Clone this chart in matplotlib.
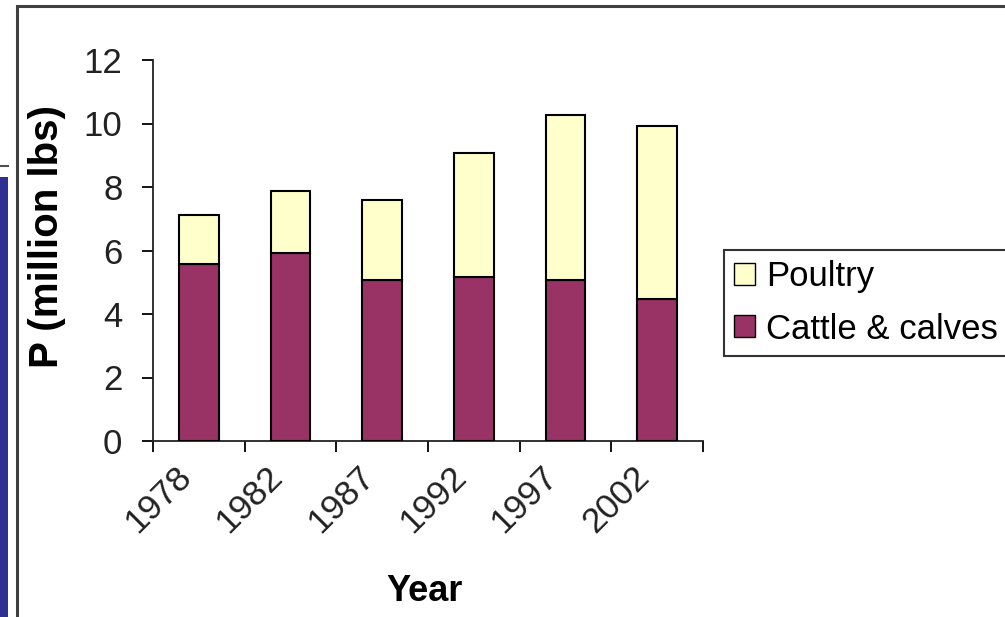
import matplotlib
matplotlib.use("Agg")
import matplotlib.pyplot as plt
from matplotlib.patches import Rectangle
from matplotlib.lines import Line2D
from matplotlib.transforms import ScaledTranslation
import numpy as np

years = ["1978", "1982", "1987", "1992", "1997", "2002"]
cattle = [5.57, 5.91, 5.07, 5.16, 5.07, 4.47]
poultry = [1.55, 1.97, 2.53, 3.92, 5.19, 5.44]

CATTLE_COLOR = "#993366"
POULTRY_COLOR = "#FFFFCC"

plt.rcParams["font.family"] = ["Liberation Sans", "DejaVu Sans"]

fig = plt.figure(figsize=(10.05, 6.17), dpi=100)
W, H = 1005, 617

# slide decoration: blue side bar and chart border
fig.add_artist(Rectangle((0, 0), 8 / W, 1 - 177 / H, transform=fig.transFigure,
                         facecolor="#2E3192", edgecolor="none"))
fig.add_artist(Line2D([0, 8 / W], [1 - 166 / H, 1 - 166 / H], transform=fig.transFigure,
                      color="#505050", lw=1.5))
fig.add_artist(Line2D([17 / W, 17 / W, 1.0], [0, 1 - 6 / H, 1 - 6 / H], transform=fig.transFigure,
                      color="#404040", lw=2.2, solid_joinstyle="miter"))

ax = fig.add_axes([153 / W, 1 - 441 / H, (703 - 153) / W, (441 - 60) / H])

x = np.arange(len(years))
bw = 0.43
b1 = ax.bar(x, cattle, width=bw, color=CATTLE_COLOR, edgecolor="black", linewidth=1.5,
            label="Cattle & calves", zorder=3)
b2 = ax.bar(x, poultry, width=bw, bottom=cattle, color=POULTRY_COLOR, edgecolor="black",
            linewidth=1.5, label="Poultry", zorder=3)

ax.set_xlim(-0.5, len(years) - 0.5)
ax.set_ylim(0, 12)
ax.set_yticks(np.arange(0, 13, 2))
ax.tick_params(axis="y", direction="out", length=8, width=1.3, labelsize=25, pad=14,
               labelcolor="#222222")

ax.set_xticks(x)
ax.set_xticklabels(years, rotation=45, ha="right", va="center", rotation_mode="anchor",
                   fontsize=25.5, color="#222222")
ax.tick_params(axis="x", which="major", length=0, pad=22)
shift = ScaledTranslation(-13 / 100, 0, fig.dpi_scale_trans)
for lbl in ax.get_xticklabels():
    lbl.set_transform(lbl.get_transform() + shift)
ax.set_xticks(np.arange(-0.5, len(years)), minor=True)
ax.tick_params(axis="x", which="minor", direction="out", length=8, width=1.3)

for side in ("top", "right"):
    ax.spines[side].set_visible(False)
for side in ("left", "bottom"):
    ax.spines[side].set_linewidth(1.3)
    ax.spines[side].set_color("#222222")

ax.set_ylabel("P (million lbs)", fontsize=29, fontweight="bold", va="center")
ax.yaxis.set_label_coords(-0.193, 0.538)
ax.set_xlabel("Year", fontsize=26, fontweight="bold", va="center")
ax.xaxis.set_label_coords(0.4945, -0.396)

leg = fig.legend(handles=[b2, b1], labels=["Poultry", "Cattle & calves"],
                 loc="upper left", bbox_to_anchor=(724 / W, 1 - 250 / H),
                 fontsize=25, frameon=True, fancybox=False, shadow=False,
                 handlelength=0.6, handleheight=0.6, handletextpad=0.3,
                 labelspacing=0.55, borderpad=0.3, borderaxespad=0)
leg.get_frame().set_edgecolor("black")
leg.get_frame().set_linewidth(1.5)
for h in leg.legend_handles:
    h.set_linewidth(1.0)

fig.savefig("out.png", dpi=100)
